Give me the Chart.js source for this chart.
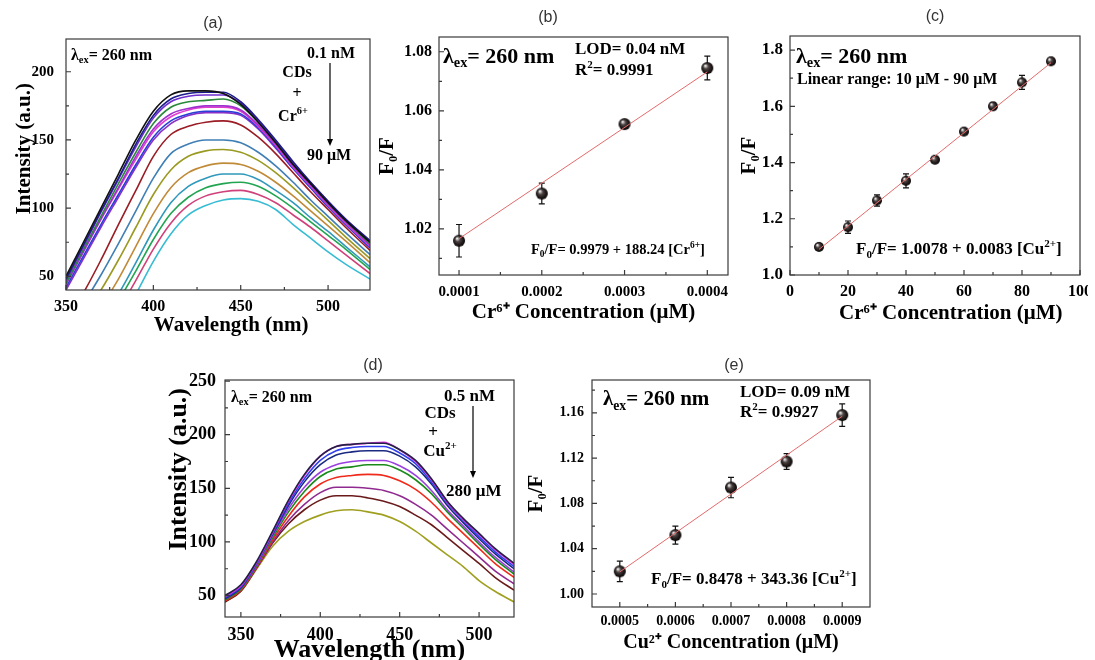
<!DOCTYPE html>
<html>
<head>
<meta charset="utf-8">
<script src="https://cdn.jsdelivr.net/npm/chart.js@4.4.1/dist/chart.umd.min.js"></script>
<style>
html, body { margin: 0; padding: 0; background: #fff; width: 1095px; height: 660px; overflow: hidden; position: relative; }
canvas { position: absolute; }
</style>
</head>
<body>
<script>
// ---------- data ----------
// (a) emission spectra, CDs + Cr6+ (0.1 nM -> 90 uM)
var wlA = [350, 360, 370, 380, 390, 400, 410, 420, 430, 440, 450, 460, 470, 480, 490, 500, 510, 524];
var specA = [
  [50, 75, 100, 125, 150, 171, 183, 186, 186, 184, 176, 163, 148, 132, 118, 104, 91, 75],
  [48, 73, 98, 122, 147, 168, 180, 184, 185, 185, 178, 165, 150, 134, 119, 105, 92, 76],
  [47, 72, 97, 121, 145, 166, 178, 182, 183, 183, 177, 164, 149, 133, 119, 105, 92, 76],
  [45, 70, 94, 118, 141, 162, 174, 178, 179, 180, 175, 163, 148, 132, 118, 104, 91, 74],
  [44, 68, 92, 115, 138, 158, 169, 173, 175, 175, 172, 161, 147, 131, 117, 103, 90, 73],
  [46, 69, 92, 114, 136, 156, 167, 172, 174, 174, 171, 160, 146, 130, 116, 102, 89, 72],
  [42, 65, 88, 110, 132, 152, 164, 169, 171, 171, 169, 159, 145, 129, 115, 101, 88, 71],
  [40, 63, 86, 108, 130, 150, 162, 168, 170, 170, 168, 158, 144, 129, 115, 101, 88, 71],
  [18, 38, 62, 88, 113, 138, 154, 160, 163, 164, 161, 152, 140, 126, 112, 99, 86, 69],
  [10, 30, 51, 74, 98, 122, 140, 147, 150, 150, 148, 141, 131, 119, 106, 94, 82, 66],
  [5, 22, 40, 62, 86, 110, 128, 138, 142, 143, 141, 135, 126, 115, 103, 91, 79, 63],
  [0, 12, 28, 48, 72, 96, 115, 126, 131, 133, 132, 127, 119, 109, 98, 87, 76, 60],
  [0, 5, 18, 37, 60, 84, 104, 116, 122, 125, 125, 121, 113, 104, 93, 83, 72, 57],
  [0, 0, 12, 32, 54, 77, 96, 108, 115, 118, 119, 116, 109, 100, 90, 80, 70, 55],
  [0, 0, 5, 25, 47, 70, 89, 102, 109, 112, 113, 110, 104, 95, 86, 76, 66, 52],
  [0, 0, 0, 15, 37, 61, 81, 95, 102, 106, 107, 105, 99, 88, 78, 68, 59, 48]
];
var colorsA = ['#111111', '#1c1c8c', '#6f2fd0', '#2a8a3a', '#a030d0', '#e23ccf', '#2b3fd6', '#8a30c8',
  '#9b1c24', '#3f7fb5', '#9a9a22', '#c08a38', '#2f98bb', '#22a552', '#d0407a', '#38bcd4'];

// (d) emission spectra, CDs + Cu2+ (0.5 nM -> 280 uM)
var wlD = [340, 350, 360, 370, 380, 390, 400, 410, 420, 430, 440, 450, 460, 470, 480, 490, 500, 510, 522];
var specD = [
  [50, 60, 82, 110, 139, 163, 180, 189, 191, 192, 192, 186, 176, 159, 138, 122, 108, 94, 80],
  [49, 59, 81, 109, 138, 162, 180, 189, 191, 192, 193, 186, 175, 158, 137, 121, 107, 93, 79],
  [48, 58, 80, 108, 136, 159, 176, 185, 188, 189, 189, 183, 173, 156, 136, 120, 105, 91, 77],
  [47, 57, 80, 107, 134, 156, 172, 181, 184, 185, 185, 180, 170, 154, 134, 118, 103, 89, 75],
  [47, 57, 79, 106, 131, 151, 165, 172, 175, 176, 176, 171, 162, 148, 130, 115, 100, 86, 72],
  [46, 56, 78, 104, 128, 147, 161, 168, 170, 172, 172, 167, 158, 145, 128, 113, 98, 84, 70],
  [45, 55, 77, 102, 124, 142, 154, 160, 162, 163, 162, 157, 149, 137, 122, 108, 94, 80, 67],
  [45, 55, 76, 100, 120, 135, 146, 151, 151, 150, 148, 143, 135, 125, 112, 99, 86, 73, 61],
  [44, 54, 76, 99, 117, 130, 139, 143, 143, 141, 138, 133, 125, 116, 104, 92, 80, 67, 55],
  [44, 54, 75, 96, 110, 119, 125, 129, 130, 128, 125, 119, 110, 99, 88, 77, 64, 54, 44]
];
var colorsD = ['#222244', '#e030e0', '#3040f0', '#1a2a80', '#9a40e0', '#1a8a1a', '#f02a1a', '#902a90', '#6a1a1a', '#a0a020'];

// (b) Cr6+ low range
var concB = [0.0001, 0.0002, 0.0003, 0.0004];
var ratioB = [1.016, 1.032, 1.0555, 1.0745];
var errB = [0.0055, 0.0035, 0.001, 0.004];
var fitXB = [0.0001, 0.0004];
var fitYB = [1.0167, 1.0732];

// (c) Cr6+ linear range
var concC = [10, 20, 30, 40, 50, 60, 70, 80, 90];
var ratioC = [1.10, 1.17, 1.265, 1.335, 1.41, 1.51, 1.60, 1.685, 1.76];
var errC = [0.01, 0.022, 0.02, 0.025, 0.01, 0.01, 0.012, 0.025, 0.01];
var fitXC = [10, 90];
var fitYC = [1.091, 1.755];

// (e) Cu2+
var concE = [0.0005, 0.0006, 0.0007, 0.0008, 0.0009];
var ratioE = [1.020, 1.052, 1.094, 1.117, 1.158];
var errE = [0.009, 0.008, 0.009, 0.007, 0.01];
var fitXE = [0.0005, 0.0009];
var fitYE = [1.0195, 1.157];

// tick values
var ticksAx = [350, 400, 450, 500], minorAx = [375, 425, 475];
var ticksAy = [50, 100, 150, 200], minorAy = [75, 125, 175];
var ticksBx = [0.0001, 0.0002, 0.0003, 0.0004], minorBx = [0.00015, 0.00025, 0.00035];
var ticksBy = [1.02, 1.04, 1.06, 1.08], minorBy = [1.01, 1.03, 1.05, 1.07];
var ticksCx = [0, 20, 40, 60, 80, 100], minorCx = [10, 30, 50, 70, 90];
var ticksCy = [1.0, 1.2, 1.4, 1.6, 1.8], minorCy = [1.1, 1.3, 1.5, 1.7];
var ticksDx = [350, 400, 450, 500], minorDx = [375, 425, 475];
var ticksDy = [50, 100, 150, 200, 250], minorDy = [75, 125, 175, 225];
var ticksEx = [0.0005, 0.0006, 0.0007, 0.0008, 0.0009], minorEx = [0.00055, 0.00065, 0.00075, 0.00085];
var ticksEy = [1.00, 1.04, 1.08, 1.12, 1.16], minorEy = [1.02, 1.06, 1.10, 1.14, 1.18];

// ---------- helpers ----------
var SERIF = '"Liberation Serif", "Times New Roman", serif';
var SANS = '"Liberation Sans", Arial, sans-serif';

function makeBall(r) {
  var c = document.createElement('canvas');
  c.width = c.height = 2 * r + 2;
  var g = c.getContext('2d'), m = r + 1;
  var gr = g.createRadialGradient(m - r * 0.35, m - r * 0.4, r * 0.1, m, m, r);
  gr.addColorStop(0, '#e6e6e6');
  gr.addColorStop(0.35, '#4a4040');
  gr.addColorStop(1, '#050000');
  g.fillStyle = gr;
  g.beginPath(); g.arc(m, m, r, 0, Math.PI * 2); g.fill();
  return c;
}

function drawRich(ctx, x, y, parts, size, align) {
  var w = 0;
  parts.forEach(function (p) {
    ctx.font = 'bold ' + (p[1] ? size * 0.65 : size) + 'px ' + SERIF;
    w += ctx.measureText(p[0]).width;
  });
  if (align === 'center') x -= w / 2;
  ctx.textBaseline = 'middle';
  ctx.textAlign = 'left';
  ctx.fillStyle = '#000';
  parts.forEach(function (p) {
    ctx.font = 'bold ' + (p[1] ? size * 0.65 : size) + 'px ' + SERIF;
    var dy = p[1] === 1 ? size * 0.3 : p[1] === 2 ? -size * 0.33 : 0;
    ctx.fillText(p[0], x, y + dy);
    x += ctx.measureText(p[0]).width;
  });
}

function decoPlugin(p) {
  return {
    id: 'deco',
    beforeDatasetsDraw: function (chart) {
      if (!p.err) return;
      var ctx = chart.ctx, xs = chart.scales.x, ys = chart.scales.y;
      ctx.save();
      ctx.strokeStyle = '#111';
      ctx.lineWidth = 1.2;
      p.err.xs.forEach(function (xv, i) {
        var px = xs.getPixelForValue(xv);
        var y1 = ys.getPixelForValue(p.err.ys[i] - p.err.es[i]);
        var y2 = ys.getPixelForValue(p.err.ys[i] + p.err.es[i]);
        ctx.beginPath();
        ctx.moveTo(px, y1); ctx.lineTo(px, y2);
        ctx.moveTo(px - 3, y1); ctx.lineTo(px + 3, y1);
        ctx.moveTo(px - 3, y2); ctx.lineTo(px + 3, y2);
        ctx.stroke();
      });
      ctx.restore();
    },
    afterDraw: function (chart) {
      var ctx = chart.ctx, a = chart.chartArea, xs = chart.scales.x, ys = chart.scales.y;
      ctx.save();
      // frame
      ctx.strokeStyle = '#3a3a3a';
      ctx.lineWidth = 1.2;
      ctx.strokeRect(a.left, a.top, a.right - a.left, a.bottom - a.top);
      // inward ticks
      ctx.beginPath();
      p.x.ticks.concat(p.x.minor).forEach(function (v, i) {
        var len = i < p.x.ticks.length ? 5 : 3;
        var px = xs.getPixelForValue(v);
        if (px < a.left - 0.5 || px > a.right + 0.5) return;
        ctx.moveTo(px, a.bottom); ctx.lineTo(px, a.bottom - len);
      });
      p.y.ticks.concat(p.y.minor).forEach(function (v, i) {
        var len = i < p.y.ticks.length ? 5 : 3;
        var py = ys.getPixelForValue(v);
        if (py < a.top - 0.5 || py > a.bottom + 0.5) return;
        ctx.moveTo(a.left, py); ctx.lineTo(a.left + len, py);
      });
      ctx.stroke();
      // annotations (page coordinates)
      var ox = p.box.x, oy = p.box.y;
      (p.texts || []).forEach(function (t) {
        drawRich(ctx, t.x - ox, t.y - oy, t.parts, t.size, t.align);
      });
      (p.arrows || []).forEach(function (r) {
        var x = r.x - ox, y1 = r.y1 - oy, y2 = r.y2 - oy;
        ctx.strokeStyle = '#000';
        ctx.lineWidth = 1.2;
        ctx.beginPath(); ctx.moveTo(x, y1); ctx.lineTo(x, y2 - 5); ctx.stroke();
        ctx.fillStyle = '#000';
        ctx.beginPath(); ctx.moveTo(x - 3, y2 - 7); ctx.lineTo(x + 3, y2 - 7); ctx.lineTo(x, y2); ctx.closePath(); ctx.fill();
      });
      if (p.label) {
        ctx.font = '16px ' + SANS;
        ctx.fillStyle = '#333';
        ctx.textAlign = 'center';
        ctx.textBaseline = 'middle';
        ctx.fillText(p.label.t, p.label.x - ox, p.label.y - oy);
      }
      ctx.restore();
    }
  };
}

function axisOpts(ax, dir, size) {
  return {
    type: 'linear',
    min: ax.min,
    max: ax.max,
    bounds: 'data',
    grid: { display: false, drawTicks: false },
    border: { display: false },
    afterBuildTicks: function (s) { s.ticks = ax.ticks.map(function (v) { return { value: v }; }); },
    afterFit: function (s) {
      if (dir === 'x') s.height = size; else s.width = size;
      s.paddingLeft = 0; s.paddingRight = 0; s.paddingTop = 0; s.paddingBottom = 0;
    },
    ticks: {
      font: { family: SERIF, weight: 'bold', size: ax.tickSize },
      color: '#000',
      padding: ax.pad,
      maxRotation: 0,
      autoSkip: false,
      callback: function (v) { return ax.fmt ? ax.fmt(v) : String(v); }
    },
    title: {
      display: true,
      text: ax.title,
      font: { family: SERIF, weight: 'bold', size: ax.titleSize, lineHeight: 1.2 },
      color: '#000',
      padding: 0
    }
  };
}

function makeChart(p) {
  var cv = document.createElement('canvas');
  cv.width = p.box.w; cv.height = p.box.h;
  cv.style.left = p.box.x + 'px';
  cv.style.top = p.box.y + 'px';
  document.body.appendChild(cv);
  var yW = p.plot.L - p.box.x;
  var xH = p.box.y + p.box.h - p.plot.B;
  var padTop = p.plot.T - p.box.y;
  var padRight = p.box.x + p.box.w - p.plot.R;
  return new Chart(cv, {
    type: p.type,
    data: { datasets: p.datasets },
    options: {
      responsive: false,
      animation: false,
      events: [],
      layout: { padding: { left: 0, top: padTop, right: padRight, bottom: 0 } },
      plugins: { legend: { display: false }, tooltip: { enabled: false } },
      scales: { x: axisOpts(p.x, 'x', xH), y: axisOpts(p.y, 'y', yW) }
    },
    plugins: [decoPlugin(p)]
  });
}

function spectra(wl, spec, colors) {
  return spec.map(function (s, k) {
    return {
      data: wl.map(function (w, i) { return { x: w, y: s[i] }; }),
      borderColor: colors[k],
      borderWidth: 1.6,
      pointRadius: 0,
      fill: false,
      cubicInterpolationMode: 'monotone',
      clip: 0,
      order: k
    };
  });
}

function scatterSets(xs, ys, fx, fy, ball) {
  return [
    {
      type: 'scatter',
      data: xs.map(function (x, i) { return { x: x, y: ys[i] }; }),
      pointStyle: ball,
      pointRadius: 6,
      order: 1
    },
    {
      type: 'line',
      data: fx.map(function (x, i) { return { x: x, y: fy[i] }; }),
      borderColor: '#e46a6a',
      borderWidth: 1,
      pointRadius: 0,
      showLine: true,
      fill: false,
      order: 0
    }
  ];
}

var fmt4 = function (v) { return v.toFixed(4); };
var fmt2 = function (v) { return v.toFixed(2); };
var fmt1 = function (v) { return v.toFixed(1); };
var LAM = function (x, y, s) { return { x: x, y: y, size: s, parts: [['λ'], ['ex', 1], ['= 260 nm']] }; };

// ---------- (a) ----------
makeChart({
  type: 'line',
  box: { x: 12, y: 0, w: 366, h: 338 },
  plot: { L: 66, T: 39, R: 370, B: 290 },
  datasets: spectra(wlA, specA, colorsA),
  x: { min: 350, max: 524, ticks: ticksAx, minor: minorAx, tickSize: 16, pad: 7, title: '     Wavelength (nm)', titleSize: 21 },
  y: { min: 40, max: 224, ticks: ticksAy, minor: minorAy, tickSize: 15, pad: 12, title: '      Intensity (a.u.)', titleSize: 21 },
  label: { t: '(a)', x: 213, y: 24 },
  texts: [
    LAM(71, 56, 16),
    { x: 307, y: 54, size: 16, parts: [['0.1 nM']] },
    { x: 297, y: 73, size: 16, align: 'center', parts: [['CDs']] },
    { x: 297, y: 94, size: 16, align: 'center', parts: [['+']] },
    { x: 293, y: 117, size: 16, align: 'center', parts: [['Cr'], ['6+', 2]] },
    { x: 307, y: 156, size: 16, parts: [['90 μM']] }
  ],
  arrows: [{ x: 330, y1: 63, y2: 146 }]
});

// ---------- (b) ----------
var ball = makeBall(6);
makeChart({
  type: 'scatter',
  box: { x: 375, y: 0, w: 360, h: 325 },
  plot: { L: 439, T: 37, R: 728, B: 275 },
  datasets: scatterSets(concB, ratioB, fitXB, fitYB, ball),
  err: { xs: concB, ys: ratioB, es: errB },
  x: { min: 0.0000758, max: 0.000425, ticks: ticksBx, minor: minorBx, tickSize: 15, pad: 8, fmt: fmt4, title: 'Cr⁶⁺ Concentration (μM)', titleSize: 21 },
  y: { min: 1.0044, max: 1.085, ticks: ticksBy, minor: minorBy, tickSize: 16, pad: 7, fmt: fmt2, title: 'F₀/F', titleSize: 21 },
  label: { t: '(b)', x: 548, y: 18 },
  texts: [
    LAM(443, 57, 22),
    { x: 575, y: 50, size: 17, parts: [['LOD= 0.04 nM']] },
    { x: 575, y: 71, size: 17, parts: [['R'], ['2', 2], ['= 0.9991']] },
    { x: 531, y: 250, size: 14.5, parts: [['F'], ['0', 1], ['/F= 0.9979 + 188.24 [Cr'], ['6+', 2], [']']] }
  ]
});

// ---------- (c) ----------
makeChart({
  type: 'scatter',
  box: { x: 737, y: 0, w: 351, h: 326 },
  plot: { L: 790, T: 36, R: 1080, B: 275 },
  datasets: scatterSets(concC, ratioC, fitXC, fitYC, makeBall(5)),
  err: { xs: concC, ys: ratioC, es: errC },
  x: { min: 0, max: 100, ticks: ticksCx, minor: minorCx, tickSize: 16, pad: 7, title: '      Cr⁶⁺ Concentration (μM)', titleSize: 21 },
  y: { min: 1.0, max: 1.85, ticks: ticksCy, minor: minorCy, tickSize: 17, pad: 7, fmt: fmt1, title: 'F₀/F', titleSize: 21 },
  label: { t: '(c)', x: 935, y: 17 },
  texts: [
    LAM(796, 57, 22),
    { x: 797, y: 80, size: 16, parts: [['Linear range: 10 μM - 90 μM']] },
    { x: 856, y: 250, size: 17, parts: [['F'], ['0', 1], ['/F= 1.0078 + 0.0083 [Cu'], ['2+', 2], [']']] }
  ]
});

// ---------- (d) ----------
makeChart({
  type: 'line',
  box: { x: 164, y: 340, w: 358, h: 326 },
  plot: { L: 225, T: 380, R: 514, B: 617 },
  datasets: spectra(wlD, specD, colorsD),
  x: { min: 340, max: 522, ticks: ticksDx, minor: minorDx, tickSize: 18, pad: 8, title: 'Wavelength (nm)', titleSize: 26 },
  y: { min: 30, max: 251, ticks: ticksDy, minor: minorDy, tickSize: 18, pad: 9, title: '         Intensity (a.u.)', titleSize: 26 },
  label: { t: '(d)', x: 373, y: 366 },
  texts: [
    LAM(231, 398, 16),
    { x: 444, y: 397, size: 17, parts: [['0.5 nM']] },
    { x: 440, y: 414, size: 17, align: 'center', parts: [['CDs']] },
    { x: 433, y: 433, size: 17, align: 'center', parts: [['+']] },
    { x: 440, y: 452, size: 17, align: 'center', parts: [['Cu'], ['2+', 2]] },
    { x: 446, y: 492, size: 17, parts: [['280 μM']] }
  ],
  arrows: [{ x: 473, y1: 406, y2: 478 }]
});

// ---------- (e) ----------
makeChart({
  type: 'scatter',
  box: { x: 524, y: 340, w: 354, h: 315 },
  plot: { L: 592, T: 380, R: 870, B: 607 },
  datasets: scatterSets(concE, ratioE, fitXE, fitYE, ball),
  err: { xs: concE, ys: ratioE, es: errE },
  x: { min: 0.00045, max: 0.00095, ticks: ticksEx, minor: minorEx, tickSize: 14, pad: 6, fmt: fmt4, title: 'Cu²⁺ Concentration (μM)', titleSize: 20 },
  y: { min: 0.9885, max: 1.189, ticks: ticksEy, minor: minorEy, tickSize: 14, pad: 8, fmt: fmt2, title: 'F₀/F', titleSize: 21 },
  label: { t: '(e)', x: 734, y: 366 },
  texts: [
    LAM(603, 400, 21),
    { x: 740, y: 393, size: 17, parts: [['LOD= 0.09 nM']] },
    { x: 740, y: 413, size: 17, parts: [['R'], ['2', 2], ['= 0.9927']] },
    { x: 651, y: 580, size: 17, parts: [['F'], ['0', 1], ['/F= 0.8478 + 343.36 [Cu'], ['2+', 2], [']']] }
  ]
});
</script>
</body>
</html>
